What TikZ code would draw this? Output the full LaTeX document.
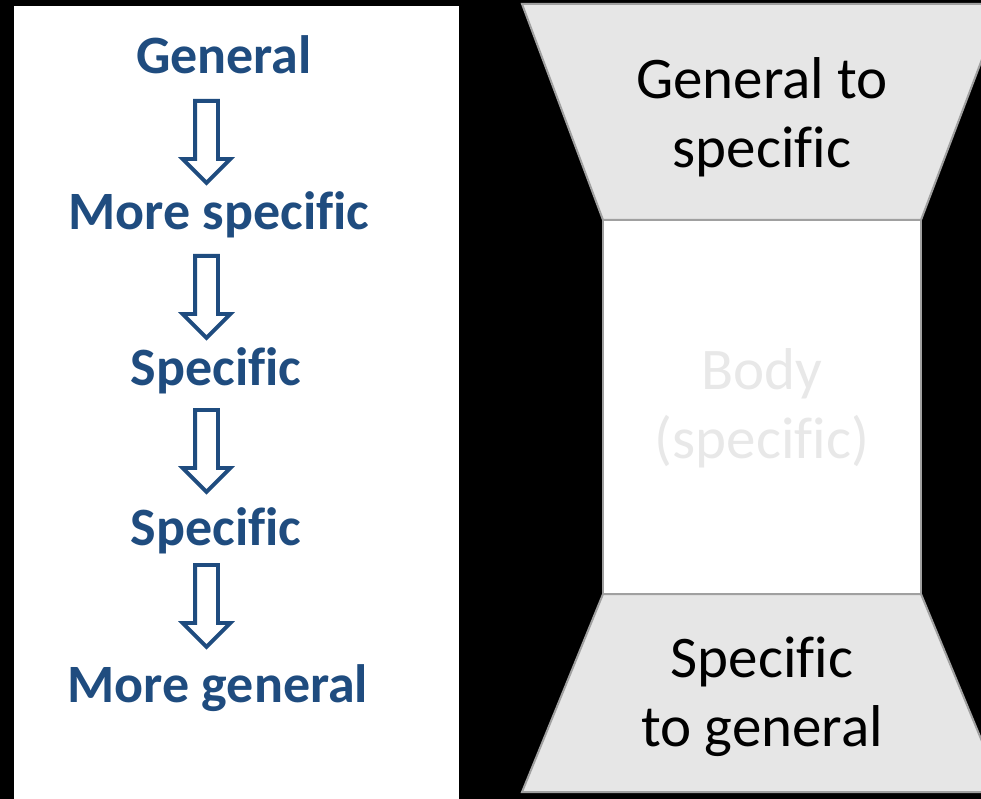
\documentclass[tikz,border=0pt]{standalone}
\usepackage{fontspec}
\setmainfont{Carlito}[Ligatures=NoCommon]
\usetikzlibrary{shapes.arrows}

\definecolor{navy}{RGB}{31,76,127}
\definecolor{panelgray}{RGB}{230,230,230}
\definecolor{edgegray}{RGB}{160,160,160}
\definecolor{faint}{RGB}{232,232,232}

\tikzset{
  steplabel/.style={text=navy, font=\bfseries\fontsize{54}{64}\selectfont, anchor=base, inner sep=0pt},
  downarrow/.style={single arrow, draw=navy, line width=3.8pt, fill=white,
    shape border rotate=270, inner sep=9.5pt, minimum height=82pt,
    single arrow head extend=12.5pt, anchor=tail},
  partlabel/.style={align=center, inner sep=0pt, font=\fontsize{59}{69}\selectfont},
  part/.style={draw=edgegray, line width=2pt, fill=panelgray}
}

\begin{document}
\begin{tikzpicture}[x=1pt,y=-1pt]
  \useasboundingbox (0,0) rectangle (981,799);
  \fill[black] (0,0) rectangle (981,799);
  \clip (0,0) rectangle (981,799);

  % left panel
  \fill[white] (14,6) rectangle (459,805);

  \node[steplabel] (gen) at (224,74) {General};
  \node[steplabel] (mspec) at (219,230) {More specific};
  \node[steplabel] (spec1) at (216,385) {Specific};
  \node[steplabel] (spec2) at (216,545) {Specific};
  \node[steplabel] (mgen) at (218,702) {More general};

  \node[downarrow] (a1) at (206.5,99) {};
  \node[downarrow] (a2) at (206.5,254) {};
  \node[downarrow] (a3) at (206.5,408) {};
  \node[downarrow] (a4) at (206.5,563) {};

  % right panel
  \coordinate (TL) at (522,4);
  \coordinate (TR) at (1003,4);
  \coordinate (ML) at (603,220);
  \coordinate (MR) at (921,220);
  \coordinate (NL) at (603,594);
  \coordinate (NR) at (921,594);
  \coordinate (BL) at (522,792);
  \coordinate (BR) at (1003,792);

  \draw[part] (TL) -- (TR) -- (MR) -- (ML) -- cycle;
  \draw[draw=edgegray, line width=2pt, fill=white] (ML) rectangle (NR);
  \draw[part] (NL) -- (NR) -- (BR) -- (BL) -- cycle;

  \node[partlabel] (intro) at (762,117) {General to\\specific};
  \node[partlabel, text=faint] (body) at (762,408) {Body\\(specific)};
  \node[partlabel] (concl) at (762,697) {Specific\\to general};
\end{tikzpicture}
\end{document}
